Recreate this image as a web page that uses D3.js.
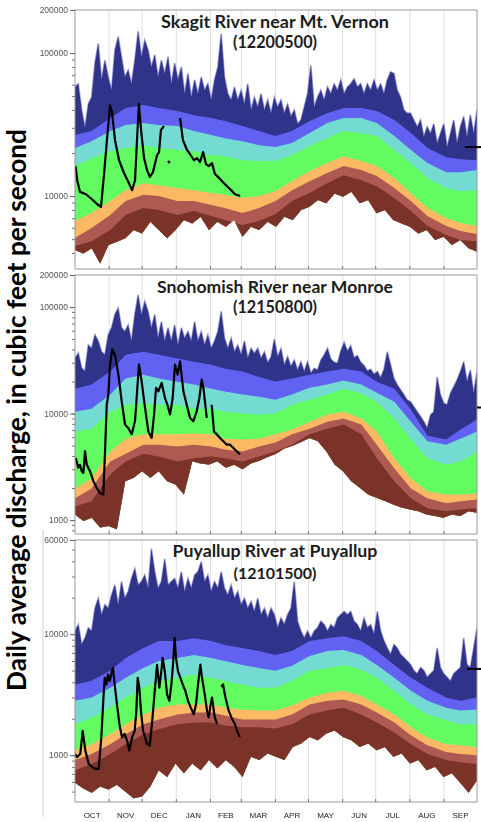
<!DOCTYPE html>
<html>
<head>
<meta charset="utf-8">
<script src="https://cdn.jsdelivr.net/npm/d3@7"></script>
<style>
  html, body { margin: 0; padding: 0; background: #fff; }
  svg { display: block; }
  .gray-text { filter: grayscale(100%); }
</style>
</head>
<body>
<script>
// ---- data ----
const months = ["OCT", "NOV", "DEC", "JAN", "FEB", "MAR", "APR", "MAY", "JUN", "JUL", "AUG", "SEP"];
const monthStartDays = [0, 31, 61, 92, 123, 151, 182, 212, 243, 273, 304, 335, 365];

const stationNames = ["Skagit River near Mt. Vernon", "Snohomish River near Monroe", "Puyallup River at Puyallup"];
const stationIds = ["(12200500)", "(12150800)", "(12101500)"];
const yDomains = [[3090, 200000], [740, 200000], [410, 60000]];
const yLabelValues = [[10000, 100000, 200000], [1000, 10000, 100000, 200000], [1000, 10000, 60000]];

// days of water year where the percentile curves were read
const bandDays = [0, 15, 32, 46, 62, 76, 93, 108, 124, 136, 152, 167, 182, 197, 213, 229, 244, 260, 274, 290, 305, 320, 337, 350, 365];

// Skagit (evenly spaced over the year for max/min)
const skagitMax = [58000,61000,40000,30000,44000,49000,85000,117000,65000,89000,68000,55000,105000,130000,94000,68000,76000,61000,89000,142000,94000,123000,105000,80000,97000,68000,89000,72000,94000,61000,85000,65000,80000,52000,72000,49000,65000,52000,68000,55000,61000,47000,65000,80000,137000,68000,52000,47000,58000,47000,55000,44000,61000,40000,49000,42000,52000,40000,47000,38000,49000,42000,47000,38000,44000,36000,40000,32000,34000,42000,52000,82000,42000,49000,55000,47000,58000,52000,61000,55000,65000,52000,58000,61000,66000,58000,61000,52000,61000,55000,65000,55000,61000,52000,65000,74000,72000,55000,49000,40000,38000,38000,34000,30500,34000,26000,30500,27400,32000,23400,27400,32000,22000,27400,34000,23400,30500,36000,26000,37000,27400,40000];
const skagitP95 = [26700,28500,35100,41200,43300,41200,39300,36800,35100,33500,30900,28500,26300,28500,33500,38000,41200,41200,39300,34000,27600,21700,18700,18100,17800];
const skagitP90 = [21700,24200,28500,31400,32400,31400,30900,28500,26700,25400,24200,22700,22000,23500,27600,32400,35100,35100,32400,26300,21000,17000,14700,14700,15200];
const skagitP75 = [16200,18400,20600,21700,22700,21700,21000,20600,19300,19000,17800,17600,17600,19300,22400,25400,28500,27600,26300,21000,17000,13400,11400,10800,11000];
const skagitP25 = [6680,7600,9230,11000,12300,11900,11400,11000,10500,10200,9680,10000,10800,12700,15000,17000,19000,17600,16200,13400,10500,8240,7020,6470,6170];
const skagitP10 = [5080,5970,7370,9230,10200,10000,9230,9230,8650,8240,7600,8240,9230,11000,12700,14500,16200,15200,13800,11400,9230,7250,6170,5690,5420];
const skagitP5 = [4470,4840,5780,7370,8240,7980,7370,7850,7250,6790,6270,6680,7480,9230,10500,12300,14000,12900,11700,9680,7850,6170,5340,4920,4840];
const skagitMin = [4190,3970,4310,3380,4540,4790,5060,5780,5480,6610,5780,5060,5780,6790,6440,7170,5780,6610,6100,6790,5190,6100,5780,6610,6100,7170,6790,7980,8420,9380,8890,10440,9890,10720,8890,9380,7570,7980,6790,6440,6100,5480,5780,4920,5190,4540,4920,4310,4080];
const skagitNowDays = [0.5,2,4.5,10,15.4,20,23.6,26.3,29,31.8,33.6,36.3,40,44.5,49,51.8,54.5,56.3,58,60,62.7,65.4,68,70.8,74.5,76.3,78,80.8,83,84.5,86,88,95.4,98,101.7,104.5,108,110.8,113.5,116.3,119,121.7,124.4,127,130.8,134.4,138,141.7,145.3,150];
const skagitNowFlow = [16200,12900,10700,10300,9500,8800,8400,14000,24600,43000,38700,24600,17800,14500,12300,11000,12900,24600,44000,28900,18400,15200,13600,14700,19300,20300,28900,30900,null,17600,17000,null,35100,24600,21000,19600,17800,18400,17300,20300,16700,16200,17000,14300,13400,12500,11700,11000,10300,10000];

// Snohomish
const snohomishMax = [33000,37000,26800,25000,44000,41000,55000,48000,38000,35700,55000,64000,85000,98000,64000,59000,68000,48000,85000,130000,85000,113000,91000,64000,85000,51000,73000,48000,64000,48000,68000,44000,64000,51000,59000,48000,73000,48000,59000,44000,55000,41000,48000,59000,91000,51000,41000,51000,38000,44000,35700,48000,33000,41000,36700,41000,33000,38000,30000,34000,50000,34200,40900,28600,34200,27600,31800,25700,30700,24800,30700,23900,26600,25700,31800,35500,40900,32500,30300,29600,38700,46600,38700,43400,33500,35000,30300,28200,25100,26100,23400,24800,21700,26100,38100,28600,21400,18600,16700,15000,13400,12900,11600,10400,9400,8400,7300,9700,10400,22000,15000,12500,12100,15500,17900,20700,24800,30700,20000,25700,15500,24800];
const snohomishP95 = [17100,18700,24800,35700,38100,35700,32800,30700,28800,26400,24800,22000,20000,21300,23200,24800,26400,24800,19900,17000,10900,6200,5700,7100,8800];
const snohomishP90 = [10400,11100,15100,21300,23200,21300,19900,18700,17100,16100,15100,14400,13500,15100,17500,18700,20400,18700,15700,12900,8400,5500,5100,5800,6800];
const snohomishP75 = [6800,7200,10400,12100,12400,12100,12100,11100,11100,10400,10000,9800,10000,12100,13500,15100,17100,15400,12900,9000,5800,3800,3300,3550,4400];
const snohomishP25 = [1980,2460,4400,5800,6400,6400,6400,6500,6400,5800,5700,5800,6400,7100,8400,9800,10400,9000,6800,3800,2460,1860,1740,1740,1780];
const snohomishP10 = [1600,1980,3550,4200,5100,5100,4900,5100,4900,4600,4400,4900,5350,6400,7200,8400,9000,7900,5100,3050,1980,1600,1440,1500,1560];
const snohomishP5 = [1340,1500,2700,3550,4200,3950,3550,3800,3950,3800,3550,3950,4400,5100,6400,7200,7900,6400,3800,2300,1600,1290,1210,1260,1290];
const snohomishMin = [1130,980,1050,850,880,820,2320,2500,2880,2500,2880,2320,2160,1740,3570,3400,3330,3570,3100,3300,3000,3400,3600,3900,4200,4700,5000,5400,5900,5500,4430,3330,2880,2320,2010,1740,1620,1510,1400,1310,1260,1210,1130,1090,1050,1130,1090,1210,1170];
const snohomishNowDays = [0.6,3,4.5,6.1,7.6,9.1,10.6,13.6,16.7,19.7,22.7,25.7,27.5,28.8,30.3,31.8,33.9,36.3,39.4,42.4,45.4,48.4,51.5,54.5,56.6,58.1,60.5,63.6,66.6,69.6,71.8,73.6,75.7,78.7,81.7,83.9,86.3,88.7,90.8,93.2,95.4,98.4,101.4,104.5,107.5,110.5,112.9,115,116.6,119.6,121,124.1,126.2,128.7,131.7,134.7,137.8,140.8,143.8,146.8,149.9];
const snohomishNowFlow = [3840,3100,3300,2880,2770,4430,3330,2880,2320,2010,1800,1740,5100,12100,15100,28800,40000,35700,23200,13000,7900,7300,6400,8500,17400,28800,20100,11300,6800,5900,9800,17400,16200,19400,14000,12100,9800,14000,28800,23200,30900,16200,12100,9100,8500,10500,14000,20800,17400,9100,null,12100,6800,6400,5900,5500,5100,5100,4750,4430,4130];

// Puyallup
const puyallupMax = [10600,12000,8200,9300,11300,10600,16400,19800,14500,17500,16400,21100,25500,17500,27200,19800,22500,28900,34900,25500,27200,30800,24000,51000,32800,24000,27200,42000,25500,27200,28900,24000,32800,22500,28900,24000,30800,32800,39700,27200,30800,22500,27200,24000,32800,24000,21100,25500,19800,22500,17500,19800,16400,18600,15400,19800,14500,16400,13600,16400,14500,11300,13600,12000,14500,16400,27200,12800,10600,9300,10600,9300,10600,11300,12800,12000,10600,12000,11300,13600,14500,15400,14500,15400,12800,12000,10600,13600,11300,12000,10000,15400,10600,8800,7700,6800,8200,7700,6800,6400,6000,5600,5000,4700,5300,5000,4400,4700,5000,7700,5300,4700,4400,4100,4700,5000,5300,9300,5600,5300,7700,11300];
const puyallupP95 = [3820,4120,4980,6360,7680,8770,8770,9270,8770,8130,7680,7260,6730,7260,8770,9270,9630,8770,7260,5570,4360,3610,2990,2820,2990];
const puyallupP90 = [2820,2990,3610,4360,5260,6010,6360,6730,6360,6010,5570,5260,4980,5470,6600,7260,7390,6730,5570,4360,3410,2820,2470,2340,2380];
const puyallupP75 = [1800,2050,2470,2990,3610,4120,4360,4610,4360,4120,3820,3610,3610,4120,4980,5260,5570,5070,4360,3410,2620,2170,1940,1800,1800];
const puyallupP25 = [1100,1230,1490,1800,2170,2470,2620,2620,2620,2470,2380,2340,2340,2570,2990,3280,3410,3100,2620,2170,1700,1400,1230,1210,1160];
const puyallupP10 = [910,1020,1230,1490,1800,1970,2170,2250,2250,2130,1970,1970,1970,2170,2620,2820,2880,2620,2250,1860,1460,1210,1060,1020,1000];
const puyallupP5 = [750,843,1020,1230,1490,1640,1800,1860,1860,1760,1700,1700,1660,1800,2170,2340,2470,2170,1860,1540,1230,1020,910,875,843];
const puyallupMin = [590,530,490,550,520,570,500,440,455,550,750,660,855,710,855,750,910,780,910,800,660,970,910,1030,970,910,1170,1250,1410,1330,1510,1600,1410,1330,1170,1250,1100,1170,970,1030,855,910,750,800,660,710,590,490,620];
const puyallupNowDays = [0,1.8,4.8,7,9.4,12.4,15.4,18.5,21.5,23.9,26,27,28.5,30,31.5,33.6,34.5,36,38.1,40.3,42.7,45.1,47.2,49.3,51.8,54.2,55.7,56.9,58.4,59.9,61.8,65.4,67.8,69.9,72.4,74.5,76.6,78.4,79.6,81.5,83.6,85.7,87.5,89,90.5,91.7,93.5,95.7,97.8,100.2,102.6,105.1,107.8,109.9,111.7,113.8,115.3,117.8,119.9,121.4,123.2,124.4,126.9,129,131,132.9,134.4,136.6,139.6,142,145.1,147.1,149.6];
const puyallupNowFlow = [1025,965,1025,1590,1090,850,800,770,770,1400,3180,4360,3840,4640,4090,4940,5260,3840,2630,1810,1400,1500,1320,1090,1400,1590,2320,4360,3610,2320,1590,1240,1200,1810,3390,5570,3610,4940,6360,4940,3180,2810,3840,5600,9270,6360,4940,4360,3840,3390,2810,2470,2180,2630,3840,5600,4360,3180,2320,2050,2630,2990,2050,1810,null,3660,3840,2990,2320,2050,1810,1590,1410];

// short marks at the right edge
const markerDays = [354, 365, 356];
const markerFlows = [22000, 11400, 5160];

// ---- layout ----
const W = 481, H = 822;
const panelTop = [10, 275, 540];
const panelBottom = [269, 534, 802];
const titleBase = [[28, 48], [293, 313], [557, 579]];
const titleWidth = [[228, 84], [236, 84], [205, 83]];
const bandColors = ["#30338a", "#6262f2", "#74dbd2", "#62fc62", "#fcb964", "#ae5a53", "#7a3229"];

const panels = [
  { max: skagitMax, bands: [skagitP95, skagitP90, skagitP75, skagitP25, skagitP10, skagitP5], min: skagitMin, nowDays: skagitNowDays, nowFlow: skagitNowFlow },
  { max: snohomishMax, bands: [snohomishP95, snohomishP90, snohomishP75, snohomishP25, snohomishP10, snohomishP5], min: snohomishMin, nowDays: snohomishNowDays, nowFlow: snohomishNowFlow },
  { max: puyallupMax, bands: [puyallupP95, puyallupP90, puyallupP75, puyallupP25, puyallupP10, puyallupP5], min: puyallupMin, nowDays: puyallupNowDays, nowFlow: puyallupNowFlow }
];

const evenly = vals => vals.map((v, i) => [i * 365 / (vals.length - 1), v]);
const onDays = (days, vals) => vals.map((v, i) => [days[i], v]);

function fitText(sel, target) {
  const w = sel.node().getComputedTextLength();
  sel.attr("font-size", parseFloat(sel.attr("font-size")) * target / w);
}

const svg = d3.select("body").append("svg").attr("width", W).attr("height", H);
const defs = svg.append("defs");
const x = d3.scaleLinear().domain([0, 365]).range([75, 477]);

// frame line of the lower picture
svg.append("line").attr("x1", 43).attr("x2", 43).attr("y1", 530).attr("y2", 817)
  .attr("stroke", "#cfcfcf").attr("stroke-width", 1);

panels.forEach((p, k) => {
  const top = panelTop[k], bottom = panelBottom[k];
  const y = d3.scaleLog().domain(yDomains[k]).range([bottom, top]);
  const g = svg.append("g");

  // month grid
  g.selectAll("line.grid").data(monthStartDays.slice(1, -1)).join("line")
    .attr("x1", d => x(d)).attr("x2", d => x(d)).attr("y1", top).attr("y2", bottom)
    .attr("stroke", "#dedede").attr("stroke-width", 1);

  // clip to the area above the minimum curve
  defs.append("clipPath").attr("id", "above" + k).append("path")
    .attr("d", d3.area().x(d => x(d[0])).y0(top).y1(d => y(d[1]))(evenly(p.min)));
  defs.append("clipPath").attr("id", "plot" + k).append("rect")
    .attr("x", x(0)).attr("y", top).attr("width", x(365) - x(0)).attr("height", bottom - top);

  const bands = g.append("g").attr("clip-path", `url(#above${k})`);
  const fillDown = d3.area().x(d => x(d[0])).y0(bottom).y1(d => y(d[1]));
  const maxPts = evenly(p.max);

  bands.append("path")
    .attr("d", d3.line().x(d => x(d[0])).y(d => y(d[1]))(maxPts))
    .attr("fill", "none").attr("stroke", "#a0a0d4").attr("stroke-width", 1.6);
  bands.append("path").attr("d", fillDown(maxPts)).attr("fill", bandColors[0]);
  p.bands.forEach((b, j) => {
    bands.append("path").attr("d", fillDown(onDays(bandDays, b))).attr("fill", bandColors[j + 1]);
  });

  // this year's flow
  g.append("path")
    .attr("clip-path", `url(#plot${k})`)
    .attr("d", d3.line().defined(d => d[1] !== null).x(d => x(d[0])).y(d => y(d[1]))(onDays(p.nowDays, p.nowFlow)))
    .attr("fill", "none").attr("stroke", "#000").attr("stroke-width", 2.2).attr("stroke-linejoin", "round");

  // frame
  g.append("rect").attr("x", x(0)).attr("y", top).attr("width", x(365) - x(0)).attr("height", bottom - top)
    .attr("fill", "none").attr("stroke", "#9a9a9a").attr("stroke-width", 1);

  // small month ticks on the bottom edge
  g.selectAll("line.mt").data(monthStartDays.slice(1, -1)).join("line")
    .attr("x1", d => x(d)).attr("x2", d => x(d)).attr("y1", bottom).attr("y2", bottom - 3)
    .attr("stroke", "#777");

  // y axis: minor then labelled
  const minor = g.append("g").attr("transform", `translate(${x(0)},0)`)
    .call(d3.axisLeft(y).tickValues(y.ticks()).tickFormat("").tickSize(3));
  minor.select(".domain").remove();
  minor.selectAll("line").attr("stroke", "#777");
  const major = g.append("g").attr("class", "gray-text").attr("transform", `translate(${x(0)},0)`)
    .call(d3.axisLeft(y).tickValues(yLabelValues[k]).tickFormat(d3.format("d")).tickSize(5).tickPadding(2));
  major.select(".domain").remove();
  major.selectAll("line").attr("stroke", "#666");
  major.selectAll("text").attr("font-family", "'Liberation Sans', Arial, sans-serif")
    .attr("font-size", 8.5).attr("fill", "#555");

  // right-edge mark
  g.append("line").attr("x1", x(markerDays[k])).attr("x2", W)
    .attr("y1", y(markerFlows[k])).attr("y2", y(markerFlows[k]))
    .attr("stroke", "#000").attr("stroke-width", 2);

  // titles
  [stationNames[k], stationIds[k]].forEach((t, j) => {
    const txt = g.append("text").attr("x", 275).attr("y", titleBase[k][j])
      .attr("text-anchor", "middle").attr("font-family", "Lato, 'Open Sans', sans-serif")
      .attr("font-weight", "bold").attr("font-size", 16).attr("fill", "#1c1c1c").text(t);
    fitText(txt, titleWidth[k][j]);
  });
});

// month labels
svg.append("g").attr("class", "gray-text").selectAll("text").data(months).join("text")
  .attr("x", (d, i) => x((monthStartDays[i] + monthStartDays[i + 1]) / 2))
  .attr("y", 818).attr("text-anchor", "middle")
  .attr("font-family", "'Liberation Sans', Arial, sans-serif").attr("font-size", 8)
  .attr("fill", "#222").text(d => d);

// y axis title
const yTitle = svg.append("text")
  .attr("transform", "translate(26,410) rotate(-90)")
  .attr("text-anchor", "middle").attr("font-family", "Lato, 'Open Sans', sans-serif")
  .attr("font-weight", "bold").attr("font-size", 22).attr("fill", "#000")
  .text("Daily average discharge, in cubic feet per second");
fitText(yTitle, 562);
</script>
</body>
</html>
